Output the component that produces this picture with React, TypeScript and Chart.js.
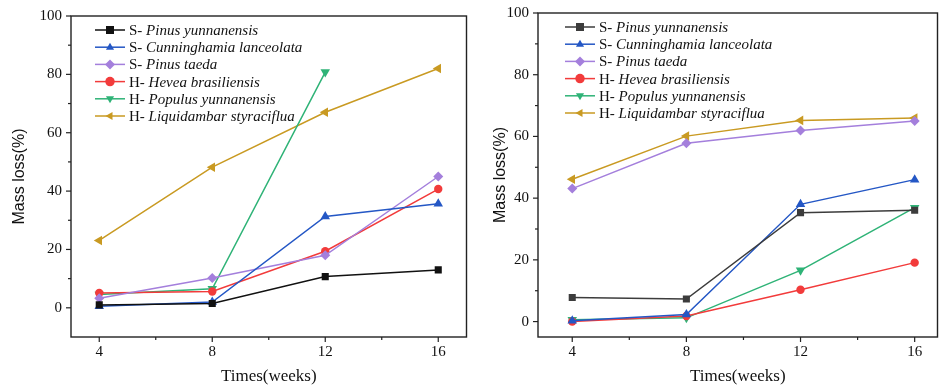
import React, { useEffect, useRef } from "react";
import { Chart, registerables } from "chart.js";

Chart.register(...registerables);

const weeks = [4, 8, 12, 16];
const seriesPrefixes = ["S-", "S-", "S-", "H-", "H-", "H-"];
const seriesNames = [
  "Pinus yunnanensis",
  "Cunninghamia lanceolata",
  "Pinus taeda",
  "Hevea brasiliensis",
  "Populus yunnanensis",
  "Liquidambar styraciflua",
];

// Left panel values (mass loss %)
const leftPinusYunnanensis = [1, 1.5, 10.7, 13];
const leftCunninghamia = [0.5, 2, 31.3, 35.7];
const leftPinusTaeda = [3.3, 10.2, 18, 45];
const leftHevea = [5.1, 5.6, 19.4, 40.7];
const leftPopulus = [4.6, 6.5, 80.8, null];
const leftLiquidambar = [23.1, 48.2, 67, 82];

// Right panel values (mass loss %)
const rightPinusYunnanensis = [7.8, 7.3, 35.3, 36.1];
const rightCunninghamia = [0.3, 2.3, 38, 46];
const rightPinusTaeda = [43.1, 57.8, 61.9, 65];
const rightHevea = [0, 1.8, 10.3, 19.1];
const rightPopulus = [0.6, 1.2, 16.6, 36.9];
const rightLiquidambar = [46.1, 60.1, 65.2, 66];

const yTicksMajor = [0, 20, 40, 60, 80, 100];
const xTicksMajor = [4, 8, 12, 16];

const FONT = "'Liberation Serif', 'Times New Roman', serif";
const SANS = "'Liberation Sans', Arial, sans-serif";

const markerStyles = [
  { shape: "rect", rot: 0, r: 5 },
  { shape: "triangle", rot: 0, r: 5.5 },
  { shape: "rectRot", rot: 0, r: 5 },
  { shape: "circle", rot: 0, r: 4.2 },
  { shape: "triangle", rot: 180, r: 5.5 },
  { shape: "triangle", rot: 270, r: 5.5 },
];

function drawMarker(ctx: CanvasRenderingContext2D, shape: string, rot: number, x: number, y: number, r: number, color: string) {
  ctx.save();
  ctx.fillStyle = color;
  ctx.translate(x, y);
  ctx.rotate((rot * Math.PI) / 180);
  ctx.beginPath();
  if (shape === "rect") {
    const s = r * 0.8;
    ctx.rect(-s, -s, 2 * s, 2 * s);
  } else if (shape === "rectRot") {
    ctx.moveTo(0, -r);
    ctx.lineTo(r, 0);
    ctx.lineTo(0, r);
    ctx.lineTo(-r, 0);
    ctx.closePath();
  } else if (shape === "circle") {
    ctx.arc(0, 0, r * 0.95, 0, Math.PI * 2);
  } else {
    const s = r * 0.9;
    ctx.moveTo(0, -s);
    ctx.lineTo(s * 0.9, s * 0.55);
    ctx.lineTo(-s * 0.9, s * 0.55);
    ctx.closePath();
  }
  ctx.fill();
  ctx.restore();
}

const frameAndLegendPlugin = {
  id: "frameAndLegend",
  afterDraw(chart: any) {
    const { ctx, chartArea: a, scales } = chart;
    const opts = chart.options.plugins.frameAndLegend;
    ctx.save();
    ctx.strokeStyle = "#222";
    ctx.lineWidth = 1.4;
    ctx.strokeRect(a.left, a.top, a.right - a.left, a.bottom - a.top);
    ctx.lineWidth = 1.2;
    for (let v = 4; v <= 16; v += 2) {
      const px = scales.x.getPixelForValue(v);
      const len = v % 4 === 0 ? 5 : 3;
      ctx.beginPath();
      ctx.moveTo(px, a.bottom);
      ctx.lineTo(px, a.bottom + len);
      ctx.stroke();
    }
    for (let v = 0; v <= 100; v += 10) {
      const py = scales.y.getPixelForValue(v);
      const len = v % 20 === 0 ? 5 : 3;
      ctx.beginPath();
      ctx.moveTo(a.left, py);
      ctx.lineTo(a.left - len, py);
      ctx.stroke();
    }
    const x0 = opts.x;
    let y = opts.y;
    chart.data.datasets.forEach((ds: any, i: number) => {
      ctx.strokeStyle = ds.borderColor;
      ctx.lineWidth = 1.5;
      ctx.beginPath();
      ctx.moveTo(x0, y);
      ctx.lineTo(x0 + 30, y);
      ctx.stroke();
      const m = markerStyles[i];
      drawMarker(ctx, m.shape, m.rot, x0 + 15, y, 5, ds.borderColor);
      ctx.fillStyle = "#111";
      ctx.textBaseline = "middle";
      ctx.textAlign = "left";
      ctx.font = `15px ${FONT}`;
      const pre = seriesPrefixes[i] + " ";
      ctx.fillText(pre, x0 + 34, y + 1);
      const w = ctx.measureText(pre).width;
      ctx.font = `italic 15px ${FONT}`;
      ctx.fillText(seriesNames[i], x0 + 34 + w, y + 1);
      y += opts.step;
    });
    ctx.restore();
  },
};

function buildConfig(values: (number | null)[][], colors: string[], cfg: any) {
  const datasets = values.map((vals, i) => ({
    label: `${seriesPrefixes[i]} ${seriesNames[i]}`,
    data: weeks.map((w, j) => ({ x: w, y: vals[j] })).filter((p) => p.y !== null),
    borderColor: colors[i],
    backgroundColor: colors[i],
    borderWidth: 1.5,
    pointStyle: markerStyles[i].shape,
    rotation: markerStyles[i].rot,
    pointRadius: markerStyles[i].r,
    pointBorderWidth: 0,
    tension: 0,
  }));
  return {
    type: "line",
    data: { datasets },
    options: {
      animation: false,
      responsive: false,
      maintainAspectRatio: false,
      layout: { padding: { top: cfg.padTop, right: cfg.padRight, left: 0, bottom: 0 } },
      plugins: {
        legend: { display: false },
        tooltip: { enabled: false },
        frameAndLegend: { x: cfg.legendX, y: cfg.legendY, step: 17.2 },
      },
      scales: {
        x: {
          type: "linear",
          min: cfg.xMin,
          max: cfg.xMax,
          afterFit: (s: any) => {
            s.height = 50;
          },
          afterBuildTicks: (s: any) => {
            s.ticks = xTicksMajor.map((v) => ({ value: v }));
          },
          grid: { display: false, drawTicks: true, tickLength: 5 },
          border: { display: false },
          ticks: { color: "#111", font: { family: FONT, size: 15 }, padding: 1, maxRotation: 0 },
          title: {
            display: true,
            text: "Times(weeks)",
            color: "#111",
            font: { family: FONT, size: 17 },
            padding: { top: 0, bottom: 0 },
          },
        },
        y: {
          type: "linear",
          min: cfg.yMin,
          max: 100,
          afterFit: (s: any) => {
            s.width = cfg.yWidth;
          },
          afterBuildTicks: (s: any) => {
            s.ticks = yTicksMajor.map((v) => ({ value: v }));
          },
          grid: { display: false, drawTicks: true, tickLength: 5 },
          border: { display: false },
          ticks: { color: "#111", font: { family: FONT, size: 15 }, padding: 4 },
          title: {
            display: true,
            text: "Mass loss(%)",
            color: "#111",
            font: { family: SANS, size: 16 },
            padding: { top: cfg.yTitlePad, bottom: 0 },
          },
        },
      },
    },
    plugins: [frameAndLegendPlugin],
  };
}

function Panel(props: { width: number; height: number; config: any }) {
  const ref = useRef<HTMLCanvasElement>(null);
  useEffect(() => {
    const chart = new Chart(ref.current as HTMLCanvasElement, props.config);
    return () => chart.destroy();
  }, []);
  return <canvas ref={ref} width={props.width} height={props.height} style={{ width: props.width, height: props.height, display: "block" }} />;
}

export default function App() {
  const leftColors = ["#111111", "#2457c5", "#a47fdc", "#f23b3b", "#2fb377", "#c99a22"];
  const rightColors = ["#3c3c3c", "#2457c5", "#a47fdc", "#f23b3b", "#2fb377", "#c99a22"];
  const leftConfig = buildConfig(
    [leftPinusYunnanensis, leftCunninghamia, leftPinusTaeda, leftHevea, leftPopulus, leftLiquidambar],
    leftColors,
    { padTop: 16, padRight: 2, xMin: 3, xMax: 17, yMin: -10, yWidth: 71, yTitlePad: 10, legendY: 30, legendX: 95 }
  );
  const rightConfig = buildConfig(
    [rightPinusYunnanensis, rightCunninghamia, rightPinusTaeda, rightHevea, rightPopulus, rightLiquidambar],
    rightColors,
    { padTop: 12, padRight: 1.5, xMin: 2.8, xMax: 16.8, yMin: -5, yWidth: 66, yTitlePad: 19, legendY: 27, legendX: 93 }
  );
  return (
    <div style={{ position: "fixed", left: 0, top: 0, width: 943, height: 387, background: "#fff" }}>
      <div style={{ position: "absolute", left: 0, top: 0 }}>
        <Panel width={472} height={387} config={leftConfig} />
      </div>
      <div style={{ position: "absolute", left: 472, top: 0 }}>
        <Panel width={471} height={387} config={rightConfig} />
      </div>
    </div>
  );
}
